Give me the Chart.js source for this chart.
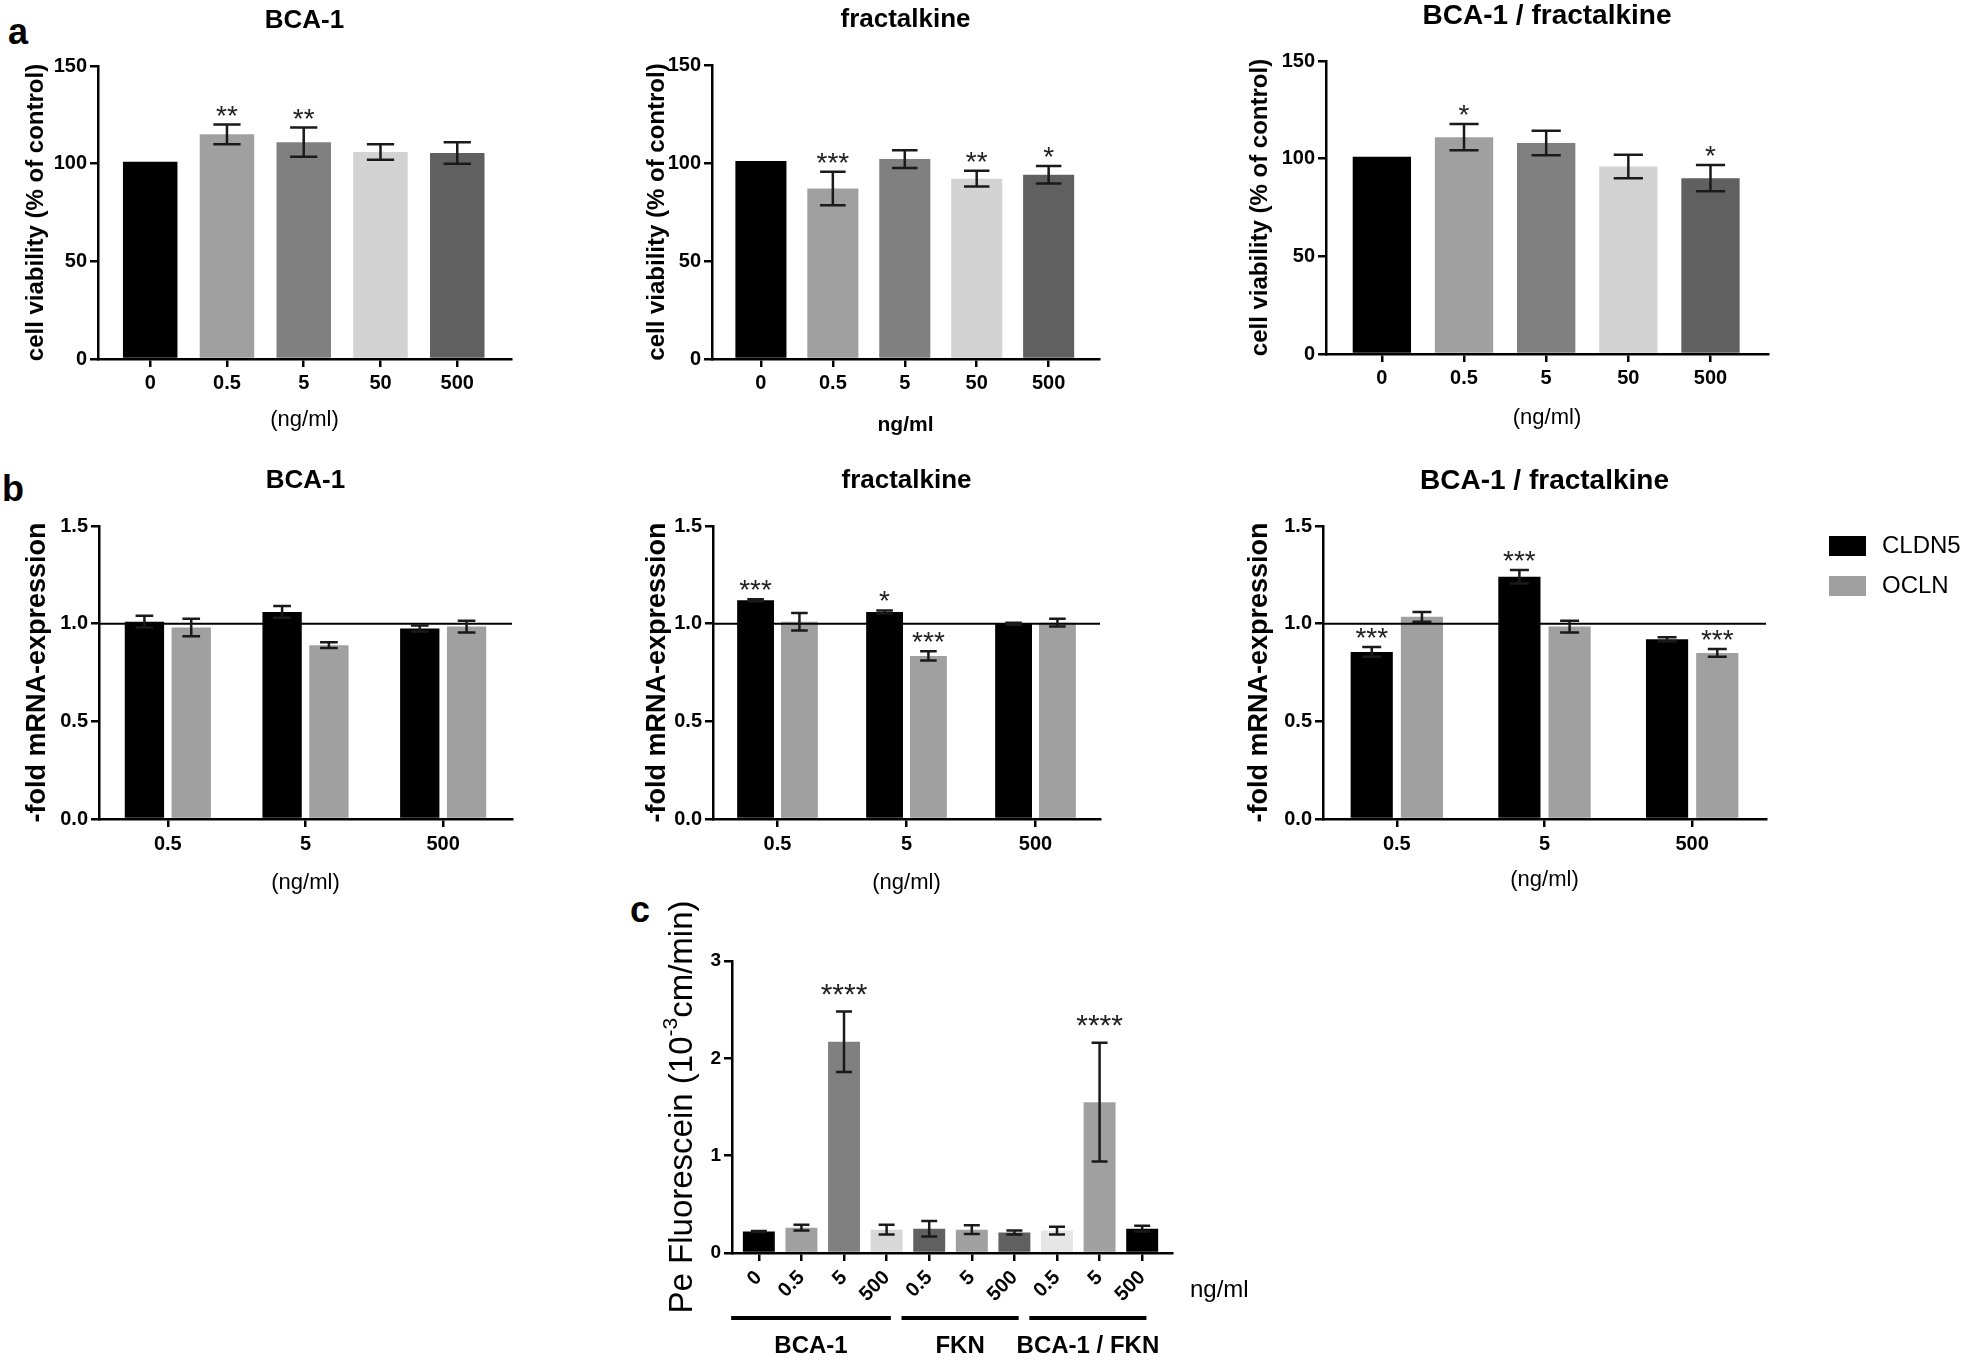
<!DOCTYPE html>
<html>
<head>
<meta charset="utf-8">
<script src="https://cdn.jsdelivr.net/npm/chart.js@4.4.1/dist/chart.umd.min.js"></script>
<style>
  body { margin: 0; background: #fff; width: 1961px; height: 1360px; position: relative; overflow: hidden;
         font-family: 'Liberation Sans', Arial, sans-serif; }
  canvas { position: absolute; }
  .letter { position: absolute; font-weight: bold; font-size: 36px; line-height: 1; }
</style>
</head>
<body>
<div class="letter" style="left:8px;top:14px">a</div>
<div class="letter" style="left:2px;top:471px">b</div>
<div class="letter" style="left:630px;top:892px">c</div>
<canvas id="a1"></canvas>
<canvas id="a2"></canvas>
<canvas id="a3"></canvas>
<canvas id="b1"></canvas>
<canvas id="b2"></canvas>
<canvas id="b3"></canvas>
<canvas id="c1"></canvas>
<script>
const FONT = "'Liberation Sans', Arial, sans-serif";
Chart.defaults.font.family = FONT;
Chart.defaults.color = '#000';

// (a) cell viability
const doses = ['0', '0.5', '5', '50', '500'];
const doseColors = ['#000000', '#a0a0a0', '#808080', '#d3d3d3', '#606060'];
const viabTicks = [0, 50, 100, 150];
const viabBCA = [101, 115, 111, 106, 105.5];
const viabBCAErr = [0, 5, 7.5, 4, 5.5];
const viabBCAStars = ['', '**', '**', '', ''];
const viabFKN = [101, 87, 102, 92, 94];
const viabFKNErr = [0, 8.5, 4.5, 4, 4.5];
const viabFKNStars = ['', '***', '', '**', '*'];
const viabMix = [101, 111, 108, 96, 90];
const viabMixErr = [0, 6.7, 6.3, 6, 6.7];
const viabMixStars = ['', '*', '', '', '*'];

// (b) mRNA expression
const mrnaDoses = ['0.5', '5', '500'];
const mrnaTicks = [0, 0.5, 1.0, 1.5];
const cldnBCA = [1.01, 1.06, 0.975];
const cldnBCAErr = [0.03, 0.03, 0.015];
const oclnBCA = [0.98, 0.89, 0.985];
const oclnBCAErr = [0.045, 0.015, 0.03];
const cldnFKN = [1.12, 1.06, 1.0];
const cldnFKNErr = [0.005, 0.008, 0.005];
const cldnFKNStars = ['***', '*', ''];
const oclnFKN = [1.01, 0.835, 1.005];
const oclnFKNErr = [0.045, 0.024, 0.02];
const oclnFKNStars = ['', '***', ''];
const cldnMix = [0.855, 1.24, 0.92];
const cldnMixErr = [0.025, 0.035, 0.01];
const cldnMixStars = ['***', '***', ''];
const oclnMix = [1.035, 0.985, 0.85];
const oclnMixErr = [0.025, 0.03, 0.02];
const oclnMixStars = ['', '', '***'];

// (c) permeability
const permDoses = ['0', '0.5', '5', '500', '0.5', '5', '500', '0.5', '5', '500'];
const permColors = ['#000000', '#a0a0a0', '#808080', '#d8d8d8', '#606060', '#a0a0a0', '#606060', '#e6e6e6', '#a0a0a0', '#000000'];
const permTicks = [0, 1, 2, 3];
const permMean = [0.22, 0.26, 2.17, 0.24, 0.25, 0.24, 0.21, 0.23, 1.55, 0.25];
const permErr = [0.005, 0.03, 0.31, 0.05, 0.08, 0.045, 0.02, 0.04, 0.61, 0.03];
const permStars = ['', '', '****', '', '', '', '', '', '****', ''];
const permGroups = ['BCA-1', 'FKN', 'BCA-1 / FKN'];
const permGroupFirst = [0, 4, 7];
const permGroupLast = [3, 6, 9];

function text(ctx, str, x, y, size, bold, align) {
  ctx.font = (bold ? 'bold ' : '') + size + 'px ' + FONT;
  ctx.textAlign = align || 'center';
  ctx.textBaseline = 'middle';
  ctx.fillStyle = '#000';
  ctx.fillText(str, x, y);
}

function makeDecor(o) {
  return {
    id: 'decor',
    afterDraw(chart) {
      const ctx = chart.ctx, a = chart.chartArea, ys = chart.scales.y, xs = chart.scales.x;
      const cx = (a.left + a.right) / 2, cy = (a.top + a.bottom) / 2;
      ctx.save();
      if (o.refLine != null) {
        const y = ys.getPixelForValue(o.refLine);
        ctx.strokeStyle = '#000'; ctx.lineWidth = 2;
        ctx.beginPath(); ctx.moveTo(a.left, y); ctx.lineTo(a.right, y); ctx.stroke();
      }
      chart.data.datasets.forEach((ds, i) => {
        chart.getDatasetMeta(i).data.forEach((bar, j) => {
          const raw = ds.data[j];
          const v = typeof raw === 'object' ? raw.y : raw;
          const e = ds.errors ? ds.errors[j] : 0;
          const top = ys.getPixelForValue(v + e);
          if (e > 0) {
            const bot = ys.getPixelForValue(v - e);
            const cw = bar.width * o.capRatio / 2;
            ctx.strokeStyle = '#1a1a1a'; ctx.lineWidth = 2.5;
            ctx.beginPath();
            ctx.moveTo(bar.x, top); ctx.lineTo(bar.x, bot);
            ctx.moveTo(bar.x - cw, top); ctx.lineTo(bar.x + cw, top);
            ctx.moveTo(bar.x - cw, bot); ctx.lineTo(bar.x + cw, bot);
            ctx.stroke();
          }
          const st = ds.stars ? ds.stars[j] : '';
          if (st) {
            ctx.font = o.starSize + 'px ' + FONT;
            const m = ctx.measureText('*');
            ctx.textAlign = 'center'; ctx.textBaseline = 'alphabetic'; ctx.fillStyle = '#222';
            ctx.fillText(st, bar.x, top - o.starGap - m.actualBoundingBoxDescent);
          }
        });
      });
      if (o.title) text(ctx, o.title, cx, a.top - 45, o.titleSize, true);
      if (o.xTitle) text(ctx, o.xTitle, cx, a.bottom + o.xDy, o.xSize, o.xBold);
      if (o.yTitle) {
        ctx.save(); ctx.translate(a.left - o.yDx, cy); ctx.rotate(-Math.PI / 2);
        text(ctx, o.yTitle, 0, 0, o.ySize, o.yBold);
        ctx.restore();
      }
      if (o.yParts) {
        ctx.save(); ctx.translate(a.left - o.yDx, cy); ctx.rotate(-Math.PI / 2);
        let total = 0;
        o.yParts.forEach(p => { ctx.font = p[1] + 'px ' + FONT; total += ctx.measureText(p[0]).width; });
        let x = -total / 2;
        o.yParts.forEach(p => {
          text(ctx, p[0], x, p[2], p[1], false, 'left');
          x += ctx.measureText(p[0]).width;
        });
        ctx.restore();
      }
      if (o.legend) {
        chart.data.datasets.forEach((ds, i) => {
          const bx = a.right + 63, by = a.top + 10 + i * 40;
          ctx.fillStyle = ds.backgroundColor;
          ctx.fillRect(bx, by, 37, 20);
          text(ctx, ds.label, bx + 53, by + 10, 24, false, 'left');
        });
      }
      if (o.unit) text(ctx, o.unit, a.right + 18, a.bottom + 37, 24, false, 'left');
      if (o.groups) {
        o.groups.forEach((g, k) => {
          const x1 = xs.getPixelForValue(o.first[k] - 0.65);
          const x2 = xs.getPixelForValue(o.last[k] + 0.1);
          ctx.strokeStyle = '#000'; ctx.lineWidth = 4;
          ctx.beginPath(); ctx.moveTo(x1, a.bottom + 65); ctx.lineTo(x2, a.bottom + 65); ctx.stroke();
          text(ctx, g, (x1 + x2) / 2, a.bottom + 93, 24, true);
        });
      }
      ctx.restore();
    }
  };
}

function makeChart(id, s) {
  const cv = document.getElementById(id);
  cv.width = s.box.w; cv.height = s.box.h;
  cv.style.left = s.box.x + 'px'; cv.style.top = s.box.y + 'px';
  const yW = s.area.l - s.box.x;
  const xH = s.box.y + s.box.h - s.area.b;
  const xAxis = {
    type: s.xType,
    offset: s.xType === 'category',
    border: { color: '#000', width: 2.5 },
    grid: { offset: false, drawOnChartArea: false, tickLength: 8, color: '#000', lineWidth: 2.5 },
    ticks: { color: '#000', font: { size: s.tickSize, weight: 'bold' }, padding: s.xPad,
             autoSkip: false, maxRotation: s.rot || 0, minRotation: s.rot || 0 },
    afterFit: sc => { sc.height = xH; }
  };
  if (s.xType === 'linear') {
    xAxis.min = s.xMin; xAxis.max = s.xMax;
    xAxis.afterBuildTicks = sc => { sc.ticks = s.labels.map((l, i) => ({ value: i })); };
    xAxis.ticks.callback = v => s.labels[v];
  }
  const yAxis = {
    min: s.yTicks[0], max: s.yTicks[s.yTicks.length - 1],
    border: { color: '#000', width: 2.5 },
    grid: { drawOnChartArea: false, tickLength: 8, color: '#000', lineWidth: 2.5 },
    ticks: { color: '#000', font: { size: s.yTickSize || s.tickSize, weight: 'bold' }, padding: 3,
             callback: v => s.yFmt ? v.toFixed(1) : String(v) },
    afterBuildTicks: sc => { sc.ticks = s.yTicks.map(v => ({ value: v })); },
    afterFit: sc => { sc.width = yW; }
  };
  return new Chart(cv, {
    type: 'bar',
    data: s.xType === 'category' ? { labels: s.labels, datasets: s.datasets } : { datasets: s.datasets },
    options: {
      responsive: false,
      animation: false,
      layout: { padding: { top: s.area.t - s.box.y, right: s.box.x + s.box.w - s.area.r, left: 0, bottom: 0 } },
      datasets: { bar: { barPercentage: s.barPct, categoryPercentage: s.catPct } },
      scales: { x: xAxis, y: yAxis },
      plugins: { legend: { display: false }, tooltip: { enabled: false } }
    },
    plugins: [makeDecor(s.decor)]
  });
}

function viabSet(vals, errs, stars) {
  return [{ data: doses.map((d, i) => ({ x: i, y: vals[i] })), backgroundColor: doseColors, errors: errs, stars: stars }];
}
function mrnaSets(c, ce, cs, o, oe, os) {
  return [
    { label: 'CLDN5', data: c, backgroundColor: '#000000', errors: ce, stars: cs },
    { label: 'OCLN', data: o, backgroundColor: '#a0a0a0', errors: oe, stars: os }
  ];
}

const viabBase = { xType: 'linear', xMin: -0.68, xMax: 4.7, labels: doses, tickSize: 20, xPad: 4,
                   yTicks: viabTicks, barPct: 0.71, catPct: 1 };
const viabDecor = { titleSize: 26, xSize: 22, xBold: false, yTitle: 'cell viability (% of control)',
                    ySize: 24, yBold: true, capRatio: 0.5, starSize: 28, starGap: 9 };

makeChart('a1', Object.assign({}, viabBase, {
  box: { x: 0, y: 0, w: 580, h: 450 }, area: { l: 98, t: 66, r: 511, b: 359 },
  datasets: viabSet(viabBCA, viabBCAErr, viabBCAStars),
  decor: Object.assign({}, viabDecor, { title: 'BCA-1', xTitle: '(ng/ml)', xDy: 61, yDx: 62 })
}));
makeChart('a2', Object.assign({}, viabBase, {
  box: { x: 600, y: 0, w: 600, h: 450 }, area: { l: 712, t: 65, r: 1099, b: 359 },
  datasets: viabSet(viabFKN, viabFKNErr, viabFKNStars),
  decor: Object.assign({}, viabDecor, { title: 'fractalkine', xTitle: 'ng/ml', xBold: true, xSize: 21, xDy: 66, yDx: 55 })
}));
makeChart('a3', Object.assign({}, viabBase, {
  box: { x: 1200, y: 0, w: 761, h: 450 }, area: { l: 1326, t: 61, r: 1768, b: 354 },
  datasets: viabSet(viabMix, viabMixErr, viabMixStars),
  decor: Object.assign({}, viabDecor, { title: 'BCA-1 / fractalkine', titleSize: 28, xTitle: '(ng/ml)', xDy: 64, yDx: 66 })
}));

const mrnaBase = { xType: 'category', labels: mrnaDoses, tickSize: 20, xPad: 5, yTicks: mrnaTicks, yFmt: true,
                   barPct: 0.84, catPct: 0.68 };
const mrnaDecor = { titleSize: 26, xTitle: '(ng/ml)', xSize: 22, xBold: false, xDy: 64,
                    yTitle: '-fold mRNA-expression', ySize: 27, yBold: true, refLine: 1,
                    capRatio: 0.45, starSize: 28, starGap: 9 };

makeChart('b1', Object.assign({}, mrnaBase, {
  box: { x: 0, y: 450, w: 580, h: 460 }, area: { l: 99, t: 526, r: 512, b: 819 },
  datasets: mrnaSets(cldnBCA, cldnBCAErr, null, oclnBCA, oclnBCAErr, null),
  decor: Object.assign({}, mrnaDecor, { title: 'BCA-1', yDx: 61 })
}));
makeChart('b2', Object.assign({}, mrnaBase, {
  box: { x: 600, y: 450, w: 600, h: 460 }, area: { l: 713, t: 526, r: 1100, b: 819 },
  datasets: mrnaSets(cldnFKN, cldnFKNErr, cldnFKNStars, oclnFKN, oclnFKNErr, oclnFKNStars),
  decor: Object.assign({}, mrnaDecor, { title: 'fractalkine', yDx: 55 })
}));
makeChart('b3', Object.assign({}, mrnaBase, {
  box: { x: 1200, y: 450, w: 761, h: 460 }, area: { l: 1323, t: 526, r: 1766, b: 819 },
  datasets: mrnaSets(cldnMix, cldnMixErr, cldnMixStars, oclnMix, oclnMixErr, oclnMixStars),
  decor: Object.assign({}, mrnaDecor, { title: 'BCA-1 / fractalkine', titleSize: 28, yDx: 63, xDy: 61, legend: true })
}));

makeChart('c1', {
  xType: 'linear', xMin: -0.63, xMax: 9.7, labels: permDoses, tickSize: 20, yTickSize: 19, xPad: 5, rot: 45,
  yTicks: permTicks, barPct: 0.75, catPct: 1,
  box: { x: 600, y: 870, w: 700, h: 490 }, area: { l: 732, t: 961, r: 1172, b: 1253 },
  datasets: [{ data: permDoses.map((d, i) => ({ x: i, y: permMean[i] })), backgroundColor: permColors,
               errors: permErr, stars: permStars }],
  decor: {
    yParts: [['Pe Fluorescein (10', 33, 0], ['-3', 21, -12], ['cm/min)', 33, 0]], yDx: 49,
    capRatio: 0.5, starSize: 30, starGap: 17, unit: 'ng/ml',
    groups: permGroups, first: permGroupFirst, last: permGroupLast
  }
});
</script>
</body>
</html>
